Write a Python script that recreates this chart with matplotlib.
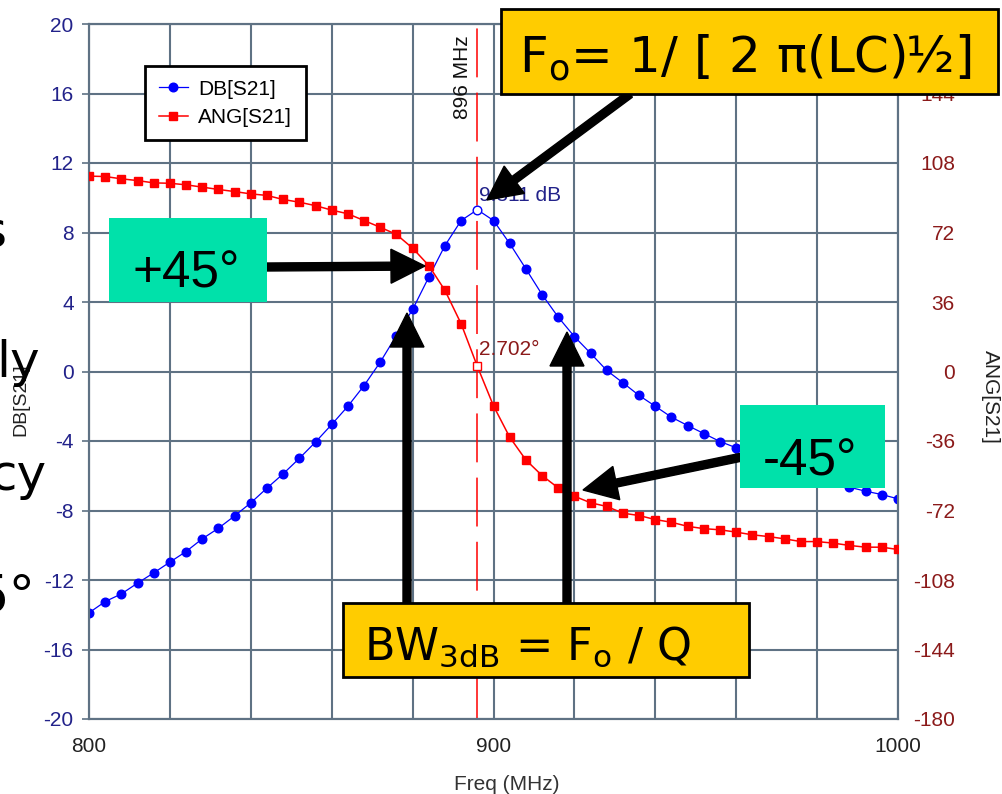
import matplotlib
matplotlib.use("Agg")
import matplotlib.pyplot as plt
from matplotlib.patches import Rectangle, FancyArrow
from matplotlib.transforms import IdentityTransform

# ---------------- data ----------------
freq_mhz = [800, 804, 808, 812, 816, 820, 824, 828, 832, 836, 840, 844, 848, 852,
            856, 860, 864, 868, 872, 876, 880, 884, 888, 892, 896, 900, 904, 908,
            912, 916, 920, 924, 928, 932, 936, 940, 944, 948, 952, 956, 960, 964,
            968, 972, 976, 980, 984, 988, 992, 996, 1000]
db_s21 = [-13.89, -13.24, -12.80, -12.18, -11.59, -10.97, -10.36, -9.63, -9.02, -8.31,
          -7.56, -6.71, -5.89, -5.00, -4.06, -3.05, -2.00, -0.81, 0.54, 2.07,
          3.57, 5.43, 7.25, 8.69, 9.311, 8.69, 7.37, 5.91, 4.43, 3.13,
          2.01, 1.05, 0.06, -0.65, -1.38, -2.00, -2.63, -3.11, -3.57, -4.03,
          -4.39, -4.74, -5.08, -5.41, -5.73, -6.04, -6.34, -6.66, -6.89, -7.08, -7.33]
ang_s21 = [101.2, 101.0, 99.8, 98.9, 97.7, 97.5, 96.7, 95.5, 94.3, 93.2,
           92.0, 91.2, 89.1, 87.7, 85.9, 83.6, 81.7, 78.2, 74.7, 71.0,
           63.9, 54.9, 42.0, 24.7, 2.702, -17.8, -34.0, -45.8, -53.9, -60.3,
           -64.6, -68.0, -69.9, -73.4, -74.6, -76.7, -78.1, -80.2, -81.4, -82.0,
           -83.2, -84.6, -85.5, -86.7, -88.1, -88.1, -88.9, -90.1, -91.0, -91.0, -92.2]
marker_freq = 896
x_ticks = [800, 820, 840, 860, 880, 900, 920, 940, 960, 980, 1000]
x_labels = ["800", "", "", "", "", "900", "", "", "", "", "1000"]
db_ticks = [-20, -16, -12, -8, -4, 0, 4, 8, 12, 16, 20]
ang_ticks = [-180, -144, -108, -72, -36, 0, 36, 72, 108, 144, 180]
series_names = ["DB[S21]", "ANG[S21]"]

# ---------------- style ----------------
plt.rcParams["font.family"] = ["Liberation Sans", "DejaVu Sans"]
plt.rcParams["mathtext.fontset"] = "custom"
plt.rcParams["mathtext.rm"] = "DejaVu Sans"
plt.rcParams["mathtext.default"] = "regular"

W, H = 1002, 794
fig = plt.figure(figsize=(W / 100, H / 100), dpi=100)
fig.patch.set_facecolor("white")

def fx(x):
    return x / W

def fy(y):
    return 1 - y / H

GRID = "#5f7284"
NAVY = "#22228a"
DRED = "#8b1a1a"
BLUE = "#0000ff"
RED = "#ff0000"
YEL = "#ffcc00"
GRN = "#00e1aa"

ax = fig.add_axes([fx(89), fy(719), (898 - 89) / W, (719 - 24) / H])
ax2 = ax.twinx()

ax.set_xlim(800, 1000)
ax.set_ylim(-20, 20)
ax2.set_ylim(-180, 180)
ax.set_xticks(x_ticks)
ax.set_xticklabels(x_labels)
ax.set_yticks(db_ticks)
ax.set_yticklabels([str(v) for v in db_ticks])
ax2.set_yticks(ang_ticks)
ax2.set_yticklabels([str(v) for v in ang_ticks])

ax.grid(True, color=GRID, lw=1.5)
ax.set_axisbelow(True)
for a in (ax, ax2):
    for s in a.spines.values():
        s.set_color(GRID)
        s.set_linewidth(1.5)

ax.tick_params(axis="x", length=0, pad=13, labelsize=15, labelcolor="#222222")
ax.tick_params(axis="y", length=5, width=1.2, color=GRID, pad=6, labelsize=15, labelcolor=NAVY)
ax2.tick_params(axis="y", length=0, pad=41, labelsize=15, labelcolor=DRED)
for lbl in ax2.get_yticklabels():
    lbl.set_horizontalalignment("right")

pk = freq_mhz.index(marker_freq)
others = [i for i in range(len(freq_mhz)) if i != pk]

ax.axvline(marker_freq, color=RED, lw=1.1, ls=(0, (32, 10)), zorder=1.6)

l1, = ax.plot(freq_mhz, db_s21, color=BLUE, lw=0.9, marker="o", ms=6.2,
              markevery=others, mfc=BLUE, mec=BLUE, zorder=3)
ax.plot([freq_mhz[pk]], [db_s21[pk]], ls="none", marker="o", ms=6.2,
        mfc="white", mec=BLUE, mew=1.0, zorder=4)
l2, = ax2.plot(freq_mhz, ang_s21, color=RED, lw=1.1, marker="s", ms=6.4,
               markevery=others, mfc=RED, mec=RED, zorder=3)
ax2.plot([freq_mhz[pk]], [ang_s21[pk]], ls="none", marker="s", ms=6.4,
         mfc="white", mec=RED, mew=1.0, zorder=4)

ax.annotate(f"{db_s21[pk]:.3f} dB", xy=(freq_mhz[pk], db_s21[pk]),
            xytext=(2, 9), textcoords="offset pixels", ha="left", va="baseline",
            fontsize=15, color=NAVY, zorder=5)
ax2.annotate(f"{ang_s21[pk]:.3f}\u00b0", xy=(freq_mhz[pk], ang_s21[pk]),
             xytext=(2, 11), textcoords="offset pixels", ha="left", va="baseline",
             fontsize=15, color=DRED, zorder=5)

fig.text(fx(462), fy(77), f"{marker_freq} MHz", rotation=90, ha="center", va="center",
         fontsize=15, color="#111111")

leg = ax2.legend([l1, l2], series_names, loc="upper left",
                 bbox_to_anchor=(fx(145), fy(66)), bbox_transform=fig.transFigure,
                 borderaxespad=0, fontsize=15, handlelength=1.4, handletextpad=0.5,
                 borderpad=0.65, labelspacing=0.45, fancybox=False, framealpha=1,
                 edgecolor="black")
leg.get_frame().set_linewidth(2)
leg.set_zorder(10)

# axis labels
fig.text(fx(990), fy(397), "ANG[S21]", rotation=-90, ha="center", va="center",
         fontsize=15, color="#222222")
fig.text(fx(21), fy(400), "DB[S21]", rotation=90, ha="center", va="center",
         fontsize=14, color="#222222")
fig.text(fx(507), fy(785), "Freq (MHz)", ha="center", va="center",
         fontsize=15, color="#333333")

# ---------------- slide overlay ----------------
ID = IdentityTransform()

def rect(x0, y0, x1, y1, fc, ec=None, lw=0, z=20):
    r = Rectangle((x0, H - y1), x1 - x0, y1 - y0, facecolor=fc,
                  edgecolor=ec if ec else fc, linewidth=lw, transform=ID, zorder=z)
    fig.add_artist(r)

def arrow(x0, y0, x1, y1, z=19):
    a = FancyArrow(x0, H - y0, x1 - x0, -(y1 - y0), width=8, head_width=34,
                   head_length=34, length_includes_head=True, color="black",
                   transform=ID, zorder=z)
    fig.add_artist(a)

# cut-off slide text at left
for s, x, y, fs in [("s", 6, 248, 36), ("ly", 40, 377, 36),
                    ("cy", 46, 490, 36), ("5\u00b0", 36, 613, 38)]:
    fig.text(fx(x), fy(y), s, ha="right", va="baseline", fontsize=fs,
             family="DejaVu Sans", color="black", zorder=18)

arrow(630, 94, 487, 200)
arrow(267, 267, 425, 266)
arrow(407, 603, 407, 313)
arrow(567, 603, 567, 332)
arrow(742, 457, 583, 490)

rect(501, 9, 998, 94, YEL, "black", 2)
fig.text(fx(745), fy(72), "F$_{o}$= 1/ [ 2 \u03c0(LC)\u00bd]", ha="center", va="baseline",
         fontsize=36, family="DejaVu Sans", color="black", zorder=21)

rect(343, 603, 749, 677, YEL, "black", 2)
fig.text(fx(527), fy(660), "BW$_{3dB}$ = F$_{o}$ / Q", ha="center", va="baseline",
         fontsize=32, family="DejaVu Sans", color="black", zorder=21)

rect(109, 218, 267, 302, GRN)
fig.text(fx(186), fy(288), "+45\u00b0", ha="center", va="baseline",
         fontsize=37, color="black", zorder=21)

rect(740, 405, 885, 488, GRN)
fig.text(fx(810), fy(475), "-45\u00b0", ha="center", va="baseline",
         fontsize=37, color="black", zorder=21)

fig.savefig("out.png", dpi=100)
